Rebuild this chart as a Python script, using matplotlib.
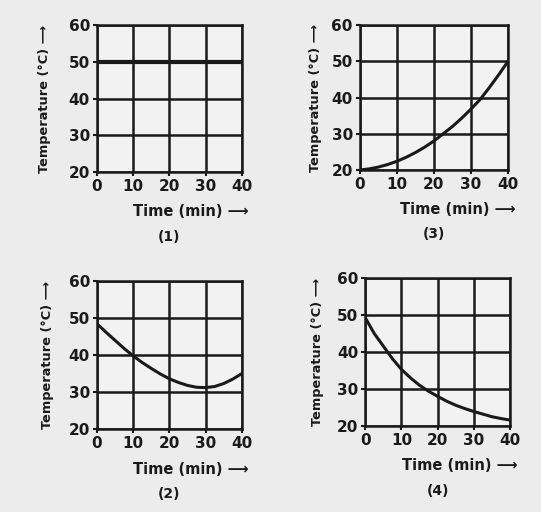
import matplotlib
matplotlib.use('Agg')
from matplotlib import pyplot as plt

# time axis (min), read every 2.5 min
time = [0, 2.5, 5, 7.5, 10, 12.5, 15, 17.5, 20, 22.5, 25, 27.5, 30, 32.5, 35, 37.5, 40]

temp_1 = [50] * 17
temp_2 = [48.5, 46.2, 44.0, 41.8, 39.8, 38.0, 36.4, 34.9, 33.6, 32.6, 31.8, 31.3, 31.2, 31.5, 32.3, 33.5, 35.0]
temp_3 = [20.0, 20.3, 20.8, 21.5, 22.4, 23.5, 24.8, 26.3, 28.0, 30.0, 32.0, 34.3, 36.8, 39.5, 42.8, 46.3, 50.0]
temp_4 = [49.3, 45.0, 41.6, 38.2, 35.3, 33.0, 31.0, 29.4, 28.0, 26.7, 25.6, 24.7, 23.9, 23.2, 22.5, 22.0, 21.6]

x_ticks = [0, 10, 20, 30, 40]
y_ticks = [20, 30, 40, 50, 60]

panels = [
    # label, data, axes rect, ylabel x, line width
    ('(1)', temp_1, [0.179, 0.664, 0.268, 0.287], -0.36, 3.0),
    ('(3)', temp_3, [0.665, 0.668, 0.274, 0.283], -0.30, 2.2),
    ('(2)', temp_2, [0.179, 0.162, 0.268, 0.289], -0.34, 2.2),
    ('(4)', temp_4, [0.675, 0.168, 0.268, 0.289], -0.33, 2.2),
]

BG = '#ececec'
INK = '#1a1a1a'


def main():
    plt.rcParams['font.family'] = 'DejaVu Sans'
    plt.rcParams['font.weight'] = 'bold'
    fig = plt.figure(figsize=(5.41, 5.12), dpi=100, facecolor=BG)

    for label, temps, rect, ylab_x, lw in panels:
        ax = fig.add_axes(rect)
        ax.set_facecolor('#f2f2f2')
        ax.plot(time, temps, color=INK, lw=lw, solid_capstyle='butt',
                solid_joinstyle='round', zorder=3)
        ax.set_xlim(0, 40)
        ax.set_ylim(20, 60)
        ax.set_xticks(x_ticks)
        ax.set_yticks(y_ticks)
        ax.grid(True, color=INK, lw=1.8)
        for s in ax.spines.values():
            s.set_linewidth(1.8)
            s.set_color(INK)
        ax.tick_params(axis='both', length=3, width=1.5, color=INK,
                       labelsize=11, labelcolor=INK, pad=2)
        ax.text(ylab_x, 0.5, 'Temperature (°C) \u27f6', rotation=90,
                transform=ax.transAxes, ha='center', va='center',
                fontsize=9.3, fontweight='bold', color=INK)
        ax.text(1.05, -0.27, 'Time (min) \u27f6', transform=ax.transAxes,
                ha='right', va='center', fontsize=10.5, fontweight='bold', color=INK)
        ax.text(0.5, -0.44, label, transform=ax.transAxes,
                ha='center', va='center', fontsize=10, fontweight='bold', color=INK)

    plt.savefig('out.png', dpi=100, facecolor=BG)


if __name__ == '__main__':
    main()
